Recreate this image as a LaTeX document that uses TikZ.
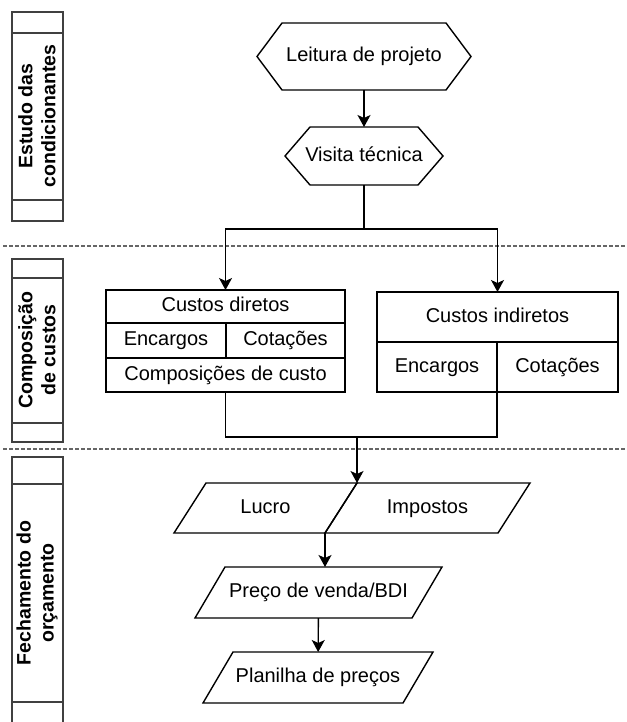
\documentclass[tikz,border=0pt]{standalone}
\usepackage{fontspec}
\setmainfont{Liberation Sans}
\usetikzlibrary{arrows.meta, calc}

\begin{document}
\begin{tikzpicture}[x=1pt, y=-1pt, line width=1.4pt,
  >={Stealth[length=12pt, width=13pt, inset=3pt]},
  every node/.style={font=\fontsize{20}{24}\selectfont, inner sep=0pt, outer sep=0pt},
  box/.style={text height=14.5pt, text depth=4pt},
  cell/.style={box, draw, minimum height=34, anchor=north west},
  lane/.style={draw=black!75},
  lanetext/.style={rotate=90, align=center, font=\fontsize{19.5}{23}\selectfont\bfseries},
  sep/.style={draw=black!60, dash pattern=on 4pt off 2pt}]
\useasboundingbox (0,0) rectangle (626,722);

\draw[lane] (12,12) rectangle (63,221) (12,33) -- (63,33) (12,200) -- (63,200);
\draw[lane] (12,259) rectangle (63,442) (12,278) -- (63,278) (12,423) -- (63,423);
\draw[lane] (12,730) -- (12,457) -- (63,457) -- (63,730) (12,484) -- (63,484) (12,702) -- (63,702);
\node[lanetext] (estudo) at (37,116) {Estudo das\\condicionantes};
\node[lanetext] (composicao) at (37,350) {Composição\\de custos};
\node[lanetext] (fechamento) at (37,593) {Fechamento do\\orçamento};

\draw[sep] (3,246) -- (626,246);
\draw[sep] (3,449) -- (626,449);

\node[box, minimum width=214, minimum height=67] (leitura) at (364,56.5) {Leitura de projeto};
\node[box, minimum width=158, minimum height=58] (visita) at (364,156) {Visita técnica};
\foreach \n in {leitura, visita}
  \draw ([xshift=25pt]\n.north west) -- ([xshift=-25pt]\n.north east) -- (\n.east)
    -- ([xshift=-25pt]\n.south east) -- ([xshift=25pt]\n.south west) -- (\n.west) -- cycle;

\node[cell, minimum width=239, minimum height=33] (diretos) at (106,290) {Custos diretos};
\node[cell, minimum width=120, minimum height=35] (encD) at (diretos.south west) {Encargos};
\node[cell, minimum width=119, minimum height=35] (cotD) at (encD.north east) {Cotações};
\node[cell, minimum width=239] (compD) at (encD.south west) {Composições de custo};
\node[cell, minimum width=241, minimum height=50] (indiretos) at (377,292) {Custos indiretos};
\node[cell, minimum width=120, minimum height=50] (encI) at (indiretos.south west) {Encargos};
\node[cell, minimum width=121, minimum height=50] (cotI) at (encI.north east) {Cotações};

\node[box, minimum width=151, minimum height=50] (lucro) at (265.5,508) {Lucro};
\node[box, minimum width=173, minimum height=50] (impostos) at (427.5,508) {Impostos};
\node[box, minimum width=217, minimum height=51] (preco) at (318.5,592.5) {Preço de venda/BDI};
\node[box, minimum width=200, minimum height=51] (planilha) at (318,677.5) {Planilha de preços};
\foreach \n/\s in {lucro/16pt, impostos/16pt, preco/15pt, planilha/15pt}
  \draw ([xshift=-\s]\n.south west) -- ([xshift=\s]\n.north west)
    -- ([xshift=\s]\n.north east) -- ([xshift=-\s]\n.south east) -- cycle;

\coordinate (split) at (364,229);
\coordinate (merge) at (357,437);
\coordinate (lucroEnd) at ([xshift=-16pt]lucro.south east);
\draw (leitura) edge[->] (visita);
\draw (visita) -- (split);
\draw[->] (split) -| (diretos);
\draw[->] (split) -| (indiretos);
\draw (compD) |- (merge);
\draw (encI.south east) |- (merge);
\draw[->] (merge) -- ([xshift=16pt]lucro.north east);
\draw[->] (lucroEnd) -- (lucroEnd |- preco.north);
\draw[->] (preco) -- (planilha);
\end{tikzpicture}
\end{document}
